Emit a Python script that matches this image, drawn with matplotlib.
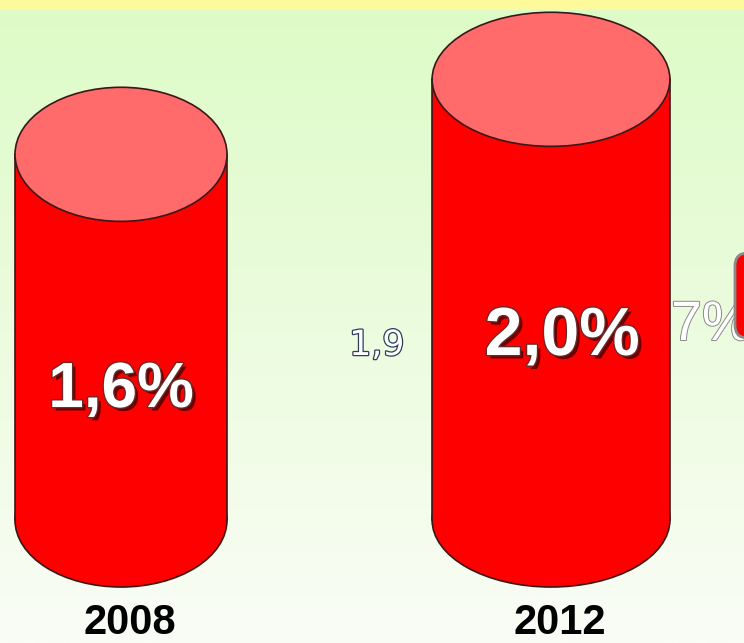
import numpy as np
import matplotlib
matplotlib.use("Agg")
import matplotlib.pyplot as plt
from matplotlib.patches import Ellipse, Rectangle, FancyBboxPatch
import matplotlib.patheffects as pe

# ---- data ----
years = ["2008", "2012"]
values = [1.6, 2.0]
value_labels = ["1,6%", "2,0%"]
stray_labels = ["1,9", "7%"]   # partially visible labels from the original slide

# ---- style / layout ----
BASE = -0.35          # visual baseline of the cylinders
ELL_H = 0.715         # ellipse (depth) height in value units
widths = [0.493, 0.553]
label_y = [0.343, 0.626]
label_dx = [0.0, 0.026]
label_size = [46, 49]
RED = "#FF0000"
TOP = "#FF6B6B"
EDGE = "#3a1818"

fig = plt.figure(figsize=(7.44, 6.43), dpi=100)
ax = fig.add_axes([0, 0, 1, 1])
XMIN, XMAX = -0.2814, 1.4488
YMIN, YMAX = -1.006, 2.423
ax.set_xlim(XMIN, XMAX)
ax.set_ylim(YMIN, YMAX)
ax.axis("off")

# background gradient
top_c = np.array([0xDD, 0xFB, 0xC6]) / 255
bot_c = np.array([0xFA, 0xFD, 0xF6]) / 255
t = np.linspace(0, 1, 256)[:, None]
grad = (top_c[None, :] * (1 - t) + bot_c[None, :] * t)[:, None, :]
ax.imshow(grad, extent=[XMIN, XMAX, YMIN, YMAX], aspect="auto", zorder=0, origin="upper")
ax.axhspan(2.37, YMAX, color="#FDFA9C", zorder=0.5, lw=0)

xs = np.arange(len(values))
for x, v, w in zip(xs, values, widths):
    ax.add_patch(Ellipse((x, BASE), w, ELL_H, fc=RED, ec=EDGE, lw=1.2, zorder=2))
    ax.add_patch(Rectangle((x - w / 2, BASE), w, v - BASE, fc=RED, ec="none", zorder=3))
    ax.plot([x - w / 2, x - w / 2], [BASE, v], color=EDGE, lw=1.2, zorder=4)
    ax.plot([x + w / 2, x + w / 2], [BASE, v], color=EDGE, lw=1.2, zorder=4)
    ax.add_patch(Ellipse((x, v), w, ELL_H, fc=TOP, ec=EDGE, lw=1.2, zorder=5))

fx = lambda px: XMIN + (XMAX - XMIN) * px / 744
fy = lambda py: YMAX - (YMAX - YMIN) * py / 643

shadow_fx = [pe.SimplePatchShadow(offset=(2.5, -2.5), shadow_rgbFace="#300000", alpha=0.7),
             pe.Stroke(linewidth=2, foreground="#6a2a2a"), pe.Normal()]
for x, lab, ly, dx, fs in zip(xs, value_labels, label_y, label_dx, label_size):
    ax.text(x + dx, ly, lab, ha="center", va="center", color="white",
            fontsize=fs, fontweight="bold", family="Liberation Sans",
            path_effects=shadow_fx, zorder=6)

for x, yr in zip(xs, years):
    ax.text(x + 0.02, fy(623), yr, ha="center", va="center", color="black",
            fontsize=30, fontweight="bold", family="Liberation Sans", zorder=6)

# stray partial labels from the original slide
ax.text(fx(377), fy(345), stray_labels[0], ha="center", va="center", color="white",
        fontsize=25, family="DejaVu Sans",
        path_effects=[pe.Stroke(linewidth=1.8, foreground="#2c3e5c"), pe.Normal()], zorder=6)
ax.text(fx(671), fy(326), stray_labels[1], ha="left", va="center", color="white",
        fontsize=40, family="Liberation Sans", clip_on=True,
        path_effects=[pe.Stroke(linewidth=1.4, foreground="#8a8a8a"), pe.Normal()], zorder=6)
ax.add_patch(FancyBboxPatch((fx(735), fy(338)), fx(800) - fx(735), fy(253) - fy(338),
                            boxstyle="round,pad=0,rounding_size=0.03",
                            mutation_aspect=(YMAX - YMIN) / (XMAX - XMIN) * 744 / 643,
                            fc=RED, ec="#8a8a8a", lw=2, zorder=7, clip_on=True))

fig.savefig("out.png", dpi=100)
